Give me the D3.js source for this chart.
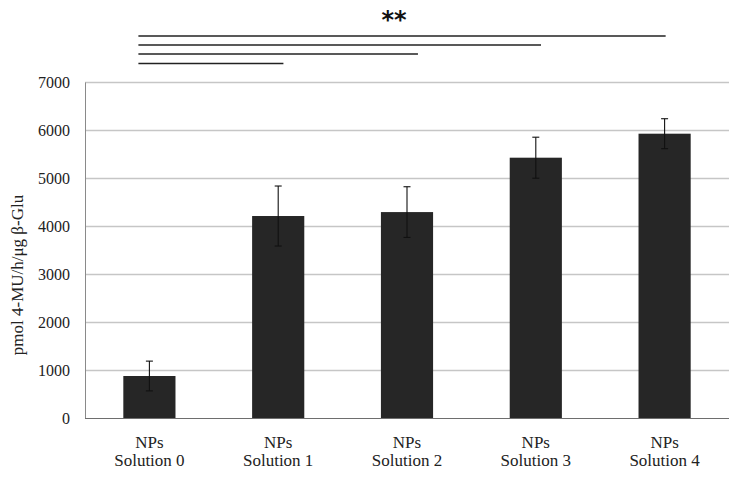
<!DOCTYPE html>
<html><head><meta charset="utf-8">
<script src="https://cdn.jsdelivr.net/npm/d3@7"></script>
<style>body{margin:0;background:#fff}svg{display:block}</style>
</head><body>
<svg id="c" width="745" height="487"></svg>
<script>
const categories = ["Solution 0","Solution 1","Solution 2","Solution 3","Solution 4"];
const values = [875, 4208, 4290, 5423, 5923];
const errors = [310, 625, 528, 427, 312];
const yTicks = [0,1000,2000,3000,4000,5000,6000,7000];
const sigEnds = ["Solution 1","Solution 2","Solution 3","Solution 4"];
const sigLabel = "**";
const yLabel = "pmol 4-MU/h/\u03bcg \u03b2-Glu";

const svg = d3.select("#c");
const m = {l:85, r:16, t:82, b:69};
const W = 745, H = 487;
const x = d3.scaleBand().domain(categories).range([m.l, W-m.r]).paddingInner(0.595).paddingOuter(0.2975);
const y = d3.scaleLinear().domain([0,7000]).range([H-m.b, m.t]);
const font = "'Liberation Serif', 'DejaVu Serif', serif";

// grid
svg.append("g").selectAll("line").data(yTicks.filter(d=>d>0)).join("line")
  .attr("x1", m.l).attr("x2", W-m.r)
  .attr("y1", d=>y(d)+0.5).attr("y2", d=>y(d)+0.5)
  .attr("stroke", "#c6c6c6").attr("stroke-width", 1.3);

// y axis
const ya = svg.append("g").attr("transform", `translate(${m.l},0)`)
  .call(d3.axisLeft(y).tickValues(yTicks).tickSize(0).tickPadding(15).tickFormat(d3.format("d")));
ya.select(".domain").attr("stroke", "#8a8a8a").attr("stroke-width", 1);
ya.selectAll("text").attr("font-family", font).attr("font-size", 16).attr("fill", "#222");

// bars
svg.append("g").selectAll("rect").data(categories).join("rect")
  .attr("x", d=>x(d)).attr("width", x.bandwidth())
  .attr("y", (d,i)=>y(values[i])).attr("height", (d,i)=>y(0)-y(values[i]))
  .attr("fill", "#262626");

// x axis line
svg.append("line").attr("x1", m.l).attr("x2", W-m.r)
  .attr("y1", y(0)+0.5).attr("y2", y(0)+0.5).attr("stroke", "#6e6e6e").attr("stroke-width", 1.2);

// error bars
const eg = svg.append("g").attr("stroke", "#111").attr("stroke-width", 1.1);
categories.forEach((c,i)=>{
  const cx = x(c) + x.bandwidth()/2;
  const top = y(values[i]+errors[i]), bot = y(values[i]-errors[i]);
  eg.append("line").attr("x1", cx).attr("x2", cx).attr("y1", top).attr("y2", bot);
  eg.append("line").attr("x1", cx-3.5).attr("x2", cx+3.5).attr("y1", top).attr("y2", top);
  eg.append("line").attr("x1", cx-3.5).attr("x2", cx+3.5).attr("y1", bot).attr("y2", bot);
});

// x labels
const xl = svg.append("g").attr("font-family", font).attr("font-size", 17).attr("fill", "#222").attr("text-anchor", "middle");
categories.forEach(c=>{
  const cx = x(c) + x.bandwidth()/2;
  xl.append("text").attr("x", cx).attr("y", y(0)+30).text("NPs");
  xl.append("text").attr("x", cx).attr("y", y(0)+48).text(c);
});

// y label
svg.append("text").attr("transform", `translate(23,275) rotate(-90)`)
  .attr("text-anchor", "middle").attr("font-family", font).attr("font-size", 17).attr("fill", "#222")
  .text(yLabel);

// significance lines
const sx0 = x(categories[0]) + x.bandwidth()/2 - 11;
const sigY = [63.5, 54, 45, 36];
const endFrac = [0.6, 0.71, 0.6, 0.52];
const sg = svg.append("g").attr("stroke", "#222").attr("stroke-width", 1.6);
sigEnds.forEach((c,i)=>{
  const ex = x(c) + x.bandwidth()*endFrac[i];
  sg.append("line").attr("x1", sx0).attr("x2", ex).attr("y1", sigY[i]).attr("y2", sigY[i]);
});
svg.append("text").attr("x", 394).attr("y", 28).attr("text-anchor", "middle")
  .attr("font-family", "'DejaVu Sans', sans-serif").attr("font-weight", "bold").attr("font-size", 24).attr("fill", "#111")
  .text(sigLabel);
</script>
</body></html>
